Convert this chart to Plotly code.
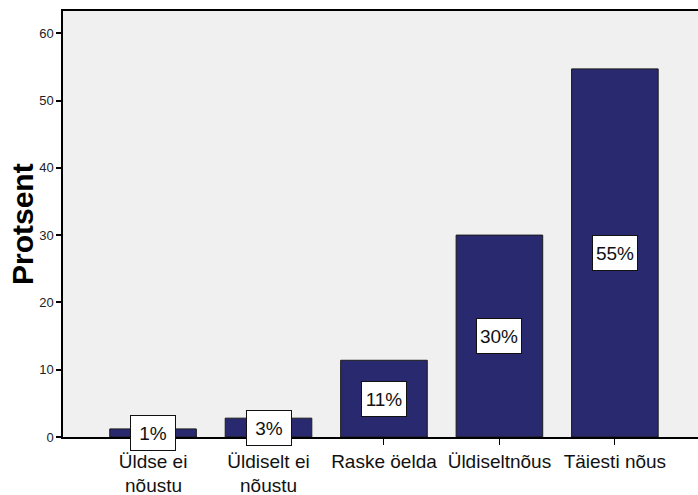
import plotly.graph_objects as go

categories = ["Üldse ei<br>nõustu", "Üldiselt ei<br>nõustu", "Raske öelda", "Üldiseltnõus", "Täiesti nõus"]
values = [1.2, 2.8, 11.4, 30.0, 54.7]
labels = ["1%", "3%", "11%", "30%", "55%"]
y_ticks = [0, 10, 20, 30, 40, 50, 60]
y_title = "Protsent"

FONT = "Liberation Sans, Arial, sans-serif"
W, H = 698, 495

fig = go.Figure()
fig.add_trace(go.Bar(
    x=list(range(len(categories))),
    y=values,
    width=0.75,
    marker=dict(color="#29296f", line=dict(color="#1a1a1a", width=1)),
    hoverinfo="skip",
))

for i, (v, t) in enumerate(zip(values, labels)):
    fig.add_annotation(
        x=i, y=v / 2, text=t, showarrow=False,
        font=dict(family=FONT, size=19, color="#111111"),
        bgcolor="white", bordercolor="#111111", borderwidth=1,
        width=42, height=32, borderpad=1,
    )

first_lines = [c.split("<br>")[0] for c in categories]
for i, c in enumerate(categories):
    parts = c.split("<br>")
    if len(parts) > 1:
        fig.add_annotation(
            x=i, xref="x", y=0, yref="paper", text=parts[1], showarrow=False,
            yanchor="top", yshift=-37, borderpad=0,
            font=dict(family=FONT, size=19, color="#111111"),
        )

fig.add_annotation(
    x=0, xref="paper", y=0.5, yref="paper", text=y_title, showarrow=False,
    textangle=-90, xanchor="center", yanchor="middle", xshift=-41, borderpad=0,
    font=dict(family=FONT, size=30, color="black", weight="bold"),
)

fig.update_layout(
    width=W, height=H,
    margin=dict(l=63, r=0, t=11, b=58),
    paper_bgcolor="white",
    plot_bgcolor="#f0f0f0",
    showlegend=False,
)
fig.update_xaxes(
    range=[-0.78, 4.72],
    tickmode="array", tickvals=list(range(len(categories))), ticktext=first_lines,
    tickangle=0, automargin=False,
    ticks="outside", ticklen=6, tickcolor="black", tickwidth=1,
    showline=True, linecolor="black", linewidth=1.5, mirror=True,
    showgrid=False, zeroline=False,
    tickfont=dict(family=FONT, size=19, color="#111111"),
)
fig.update_yaxes(
    range=[0, 63.3],
    tickmode="array", tickvals=y_ticks, automargin=False,
    ticks="outside", ticklen=5, tickcolor="black", tickwidth=1.5,
    showline=True, linecolor="black", linewidth=1.5,
    showgrid=False, zeroline=False,
    tickfont=dict(family=FONT, size=13, color="#222222"),
)

fig.write_html(
    "out.html",
    config={"displayModeBar": False},
    post_script="document.body.style.margin='0';document.body.style.overflow='hidden';",
)
